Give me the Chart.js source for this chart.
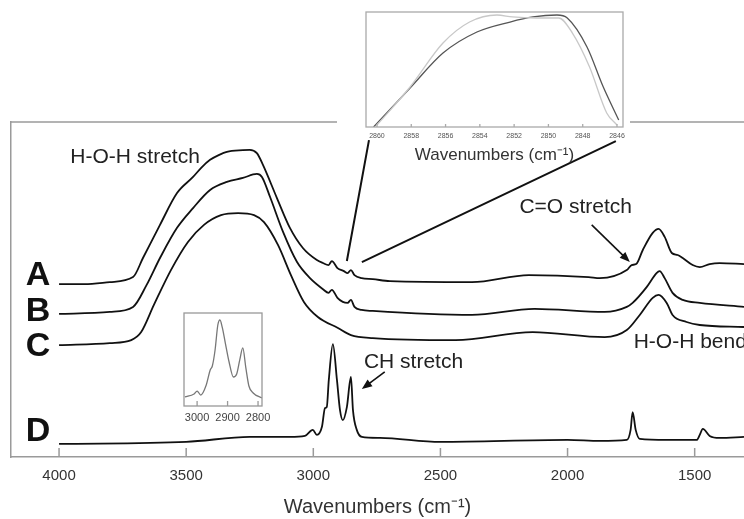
<!DOCTYPE html>
<html>
<head>
<meta charset="utf-8">
<script src="https://cdn.jsdelivr.net/npm/chart.js@4.4.0/dist/chart.umd.min.js"></script>
<style>
  html, body { margin: 0; padding: 0; background: #fff; overflow: hidden; }
  #wrap { position: relative; width: 744px; height: 519px; }
  canvas { position: absolute; }
</style>
</head>
<body>
<div id="wrap">
  <canvas id="main" width="744" height="519" style="left:0;top:0"></canvas>
  <canvas id="zoomTop" width="293" height="170" style="left:337px;top:0"></canvas>
  <canvas id="zoomCH" width="100" height="130" style="left:175px;top:300px"></canvas>
</div>
<script>
// main spectra (wavenumber, offset absorbance in a.u.)
const xTicks = [1500, 2000, 2500, 3000, 3500, 4000];

const wnA = [4000, 3900, 3800, 3709, 3670, 3603, 3536, 3473, 3440, 3406, 3370, 3340, 3277, 3250, 3222, 3198, 3143, 3092, 3041, 2986, 2962, 2940, 2927, 2905, 2880, 2865, 2852, 2838, 2810, 2766, 2699, 2376, 2152, 1917, 1873, 1767, 1748, 1730, 1704, 1665, 1642, 1618, 1590, 1567, 1547, 1508, 1480, 1441, 1402, 1306];
const absA = [51.6, 51.6, 52.2, 53.7, 59.4, 69.3, 78.8, 83.6, 86.4, 88.7, 90.2, 91.1, 91.6, 91.7, 90.7, 87.2, 77.3, 68.4, 62.4, 58.8, 57.9, 57.3, 58.5, 56.4, 55.5, 54.9, 55.8, 54.3, 53.4, 53.1, 52.5, 52.2, 54.3, 53.7, 53.4, 55.8, 57.3, 57.6, 61.8, 66.9, 68.1, 65.7, 60.9, 60.3, 59.4, 57.3, 56.7, 57.6, 57.9, 57.6];

const wnB = [4000, 3800, 3709, 3656, 3603, 3536, 3473, 3406, 3340, 3277, 3222, 3202, 3170, 3119, 3064, 3013, 2962, 2940, 2927, 2905, 2884, 2865, 2852, 2838, 2810, 2766, 2376, 2130, 1854, 1767, 1744, 1689, 1650, 1638, 1618, 1587, 1547, 1480, 1306];
const absB = [42.7, 43.3, 44.8, 51.3, 59.4, 68.4, 74.3, 79.7, 82.1, 83.3, 84.5, 83.6, 77.6, 67.2, 58.2, 53.4, 50.1, 49.0, 49.9, 47.5, 46.3, 46.0, 46.9, 44.8, 43.9, 43.6, 42.4, 44.2, 43.3, 44.8, 46.0, 50.7, 54.9, 55.5, 53.4, 49.0, 46.9, 46.0, 44.8];

const wnC = [4000, 3800, 3716, 3677, 3627, 3560, 3493, 3430, 3363, 3296, 3233, 3194, 3139, 3088, 3037, 2982, 2903, 2852, 2766, 2440, 2137, 1854, 1767, 1716, 1665, 1642, 1610, 1587, 1532, 1480, 1306];
const absC = [33.4, 34.0, 34.9, 37.3, 45.4, 55.8, 64.2, 69.3, 72.2, 72.8, 72.2, 70.1, 63.3, 54.3, 46.3, 41.8, 38.5, 36.4, 35.5, 34.9, 37.3, 35.8, 37.9, 42.4, 47.5, 48.4, 46.0, 42.4, 40.3, 39.4, 38.8];

const wnD = [4000, 3500, 3250, 3092, 3033, 3002, 2986, 2966, 2954, 2947, 2939, 2923, 2907, 2895, 2884, 2868, 2852, 2844, 2829, 2809, 2738, 2500, 2000, 1873, 1767, 1752, 1744, 1732, 1716, 1610, 1492, 1480, 1468, 1441, 1402, 1306];
const absD = [3.9, 4.5, 6.0, 6.0, 6.3, 8.1, 6.6, 9.0, 14.6, 14.9, 23.0, 33.7, 23.0, 14.0, 11.0, 14.9, 23.9, 14.0, 8.1, 6.0, 5.7, 4.5, 5.1, 4.8, 5.1, 8.1, 13.4, 8.1, 5.4, 5.1, 5.1, 6.6, 8.4, 6.3, 5.7, 6.0];

// top inset: 2846-2860 region, two samples
const topTicks = [2846, 2848, 2850, 2852, 2854, 2856, 2858, 2860];
const wnDark = [2860.2, 2859.65, 2858.07, 2856.15, 2854.17, 2852.24, 2850.9, 2849.5, 2848.9, 2847.75, 2846.8, 2845.9];
const absDark = [0, 8.7, 33.9, 64.3, 82.6, 91.3, 95.7, 97.4, 94.8, 69.6, 34.8, 6.1];
const wnLight = [2860.0, 2858.07, 2856.15, 2854.6, 2853.0, 2852.1, 2850.7, 2849.4, 2848.6, 2847.6, 2846.6, 2846.0];
const absLight = [1.7, 34.8, 73.0, 91.3, 97.4, 95.7, 94.8, 94.8, 81.7, 52.2, 12.2, 1.7];

// small inset: CH stretch region of D
const chTicks = [2800, 2900, 3000];
const wnCH = [3040, 3010, 3000, 2988, 2970, 2957, 2950, 2941, 2932, 2925, 2917, 2908, 2895, 2881, 2870, 2860, 2850, 2840, 2830, 2816, 2787];
const absCH = [9.7, 12.9, 16.1, 11.8, 22.6, 38.7, 43.0, 60.2, 87.1, 92.5, 83.9, 68.8, 47.3, 31.2, 34.4, 49.5, 62.4, 40.9, 21.5, 14.0, 8.6];

Chart.defaults.font.family = '"Liberation Sans", Arial, sans-serif';

const plainLabel = value => String(value);

function pts(xs, ys) {
    return xs.map((x, i) => ({ x: x, y: ys[i] }));
}

function line(data, color, width) {
    return {
        data: data,
        borderColor: color,
        borderWidth: width,
        pointRadius: 0,
        fill: false,
        cubicInterpolationMode: 'monotone'
    };
}

function arrow(ctx, x1, y1, x2, y2) {
    const ang = Math.atan2(y2 - y1, x2 - x1);
    ctx.beginPath();
    ctx.moveTo(x1, y1);
    ctx.lineTo(x2 - 6 * Math.cos(ang), y2 - 6 * Math.sin(ang));
    ctx.stroke();
    ctx.beginPath();
    ctx.moveTo(x2, y2);
    ctx.lineTo(x2 - 11 * Math.cos(ang - 0.38), y2 - 11 * Math.sin(ang - 0.38));
    ctx.lineTo(x2 - 11 * Math.cos(ang + 0.38), y2 - 11 * Math.sin(ang + 0.38));
    ctx.closePath();
    ctx.fill();
}

// labels, arrows, box, inner ticks for the main plot
const mainDecor = {
    id: 'mainDecor',
    afterDraw(chart) {
        const { ctx, chartArea: a, scales: { x, y } } = chart;
        const X = v => x.getPixelForValue(v);
        const Y = v => y.getPixelForValue(v);
        ctx.save();
        ctx.strokeStyle = '#9a9a9a';
        ctx.lineWidth = 1.5;
        ctx.beginPath();
        ctx.moveTo(a.left, a.top);
        ctx.lineTo(a.right, a.top);
        ctx.stroke();
        xTicks.forEach(v => {
            ctx.beginPath();
            ctx.moveTo(X(v), a.bottom);
            ctx.lineTo(X(v), a.bottom - 9);
            ctx.stroke();
        });

        ctx.fillStyle = '#111';
        ctx.font = 'bold 34px "Liberation Sans", Arial, sans-serif';
        ctx.textAlign = 'center';
        ctx.textBaseline = 'middle';
        [['A', 54.0], ['B', 43.3], ['C', 32.8], ['D', 7.5]].forEach(l => {
            ctx.fillText(l[0], X(4083), Y(l[1]));
        });

        ctx.fillStyle = '#222';
        ctx.font = '21px "Liberation Sans", Arial, sans-serif';
        ctx.fillText('H-O-H stretch', X(3701), Y(89.6));
        ctx.fillText('C=O stretch', X(1968), Y(74.6));
        ctx.textAlign = 'left';
        ctx.fillText('H-O-H bend', X(1740), Y(34.3));
        ctx.fillText('CH stretch', X(2801), Y(28.4));

        ctx.strokeStyle = '#111';
        ctx.fillStyle = '#111';
        ctx.lineWidth = 1.6;
        arrow(ctx, X(1905), Y(69.3), X(1755), Y(58.2));
        arrow(ctx, X(2719), Y(25.4), X(2809), Y(20.3));

        // lines to the zoomed inset
        ctx.lineWidth = 2;
        ctx.beginPath();
        ctx.moveTo(X(2781), Y(94.6));
        ctx.lineTo(X(2868), Y(58.5));
        ctx.moveTo(X(1810), Y(94.3));
        ctx.lineTo(X(2809), Y(58.2));
        ctx.stroke();
        ctx.restore();
    }
};

new Chart(document.getElementById('main'), {
    type: 'line',
    data: {
        datasets: [
            line(pts(wnA, absA), '#111', 1.8),
            line(pts(wnB, absB), '#111', 1.8),
            line(pts(wnC, absC), '#111', 1.8),
            line(pts(wnD, absD), '#111', 1.8)
        ]
    },
    options: {
        responsive: false,
        animation: false,
        events: [],
        layout: { padding: { top: 122, left: 0, right: 0, bottom: 0 } },
        plugins: { legend: { display: false }, tooltip: { enabled: false } },
        scales: {
            x: {
                type: 'linear',
                reverse: true,
                min: 1306,
                max: 4189,
                afterBuildTicks: s => { s.ticks = xTicks.map(v => ({ value: v })); },
                afterFit: s => { s.height = 62; },
                ticks: { autoSkip: false, maxRotation: 0, padding: 10, color: '#333', font: { size: 15 }, callback: plainLabel },
                grid: { display: false, drawTicks: false },
                border: { display: true, color: '#9a9a9a', width: 1.5 },
                title: { display: true, text: 'Wavenumbers (cm⁻¹)', color: '#333', font: { size: 20 }, padding: 0 }
            },
            y: {
                min: 0,
                max: 100,
                afterFit: s => { s.width = 11; },
                ticks: { display: false },
                grid: { display: false, drawTicks: false },
                border: { display: true, color: '#9a9a9a', width: 1.5 }
            }
        }
    },
    plugins: [mainDecor]
});

// white backing, box and inner ticks for the insets
const insetBox = {
    id: 'insetBox',
    beforeDraw(chart, args, opts) {
        if (opts.fillTo) {
            chart.ctx.save();
            chart.ctx.fillStyle = '#fff';
            chart.ctx.fillRect(0, 0, chart.width, opts.fillTo);
            chart.ctx.restore();
        }
    },
    afterDraw(chart, args, opts) {
        const { ctx, chartArea: a, scales: { x } } = chart;
        ctx.save();
        ctx.strokeStyle = opts.color;
        ctx.lineWidth = 1.3;
        ctx.strokeRect(a.left, a.top, a.right - a.left, a.bottom - a.top);
        x.ticks.forEach(t => {
            const px = x.getPixelForValue(t.value);
            ctx.beginPath();
            ctx.moveTo(px, a.bottom);
            ctx.lineTo(px, a.bottom - opts.tick);
            ctx.stroke();
        });
        ctx.restore();
    }
};

new Chart(document.getElementById('zoomTop'), {
    type: 'line',
    data: {
        datasets: [
            line(pts(wnLight, absLight), '#c8c8c8', 1.3),
            line(pts(wnDark, absDark), '#555', 1.3)
        ]
    },
    options: {
        responsive: false,
        animation: false,
        events: [],
        layout: { padding: { top: 12, left: 29, right: 7, bottom: 0 } },
        plugins: {
            legend: { display: false },
            tooltip: { enabled: false },
            insetBox: { color: '#aaa', tick: 3, fillTo: 127 }
        },
        scales: {
            x: {
                type: 'linear',
                reverse: true,
                min: 2845.65,
                max: 2860.64,
                afterBuildTicks: s => { s.ticks = topTicks.map(v => ({ value: v })); },
                afterFit: s => { s.height = 43; },
                ticks: { autoSkip: false, maxRotation: 0, padding: 5, color: '#555', font: { size: 7 }, callback: plainLabel },
                grid: { display: false, drawTicks: false },
                border: { display: false },
                title: { display: true, text: 'Wavenumbers (cm⁻¹)', color: '#333', font: { size: 17 }, padding: { top: 0, bottom: 4 } }
            },
            y: { display: false, min: 0, max: 100 }
        }
    },
    plugins: [insetBox]
});

new Chart(document.getElementById('zoomCH'), {
    type: 'line',
    data: { datasets: [line(pts(wnCH, absCH), '#777', 1.3)] },
    options: {
        responsive: false,
        animation: false,
        events: [],
        layout: { padding: { top: 13, left: 9, right: 13, bottom: 0 } },
        plugins: {
            legend: { display: false },
            tooltip: { enabled: false },
            insetBox: { color: '#999', tick: 5 }
        },
        scales: {
            x: {
                type: 'linear',
                reverse: true,
                min: 2787,
                max: 3043,
                afterBuildTicks: s => { s.ticks = chTicks.map(v => ({ value: v })); },
                afterFit: s => { s.height = 24; },
                ticks: { autoSkip: false, maxRotation: 0, padding: 5, color: '#444', font: { size: 11 }, callback: plainLabel },
                grid: { display: false, drawTicks: false },
                border: { display: false }
            },
            y: { display: false, min: 0, max: 100 }
        }
    },
    plugins: [insetBox]
});
</script>
</body>
</html>
